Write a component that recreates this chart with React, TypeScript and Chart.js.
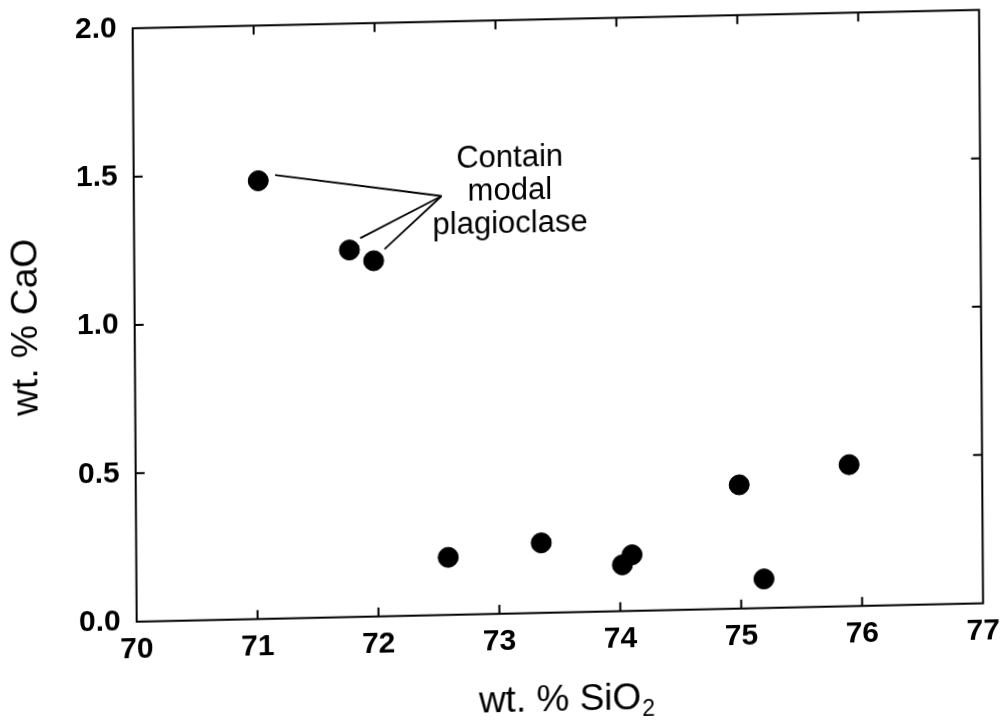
import React, { useEffect, useRef } from "react";
import { Chart, registerables } from "chart.js";

Chart.register(...registerables);

// ---- data (wt. %) ----
const sio2 = [71.03, 71.78, 71.98, 72.58, 73.35, 74.02, 74.1, 74.99, 75.19, 75.9];
const cao = [1.477, 1.237, 1.199, 0.194, 0.236, 0.156, 0.189, 0.417, 0.098, 0.477];

const xTicks = [70, 71, 72, 73, 74, 75, 76, 77];
const yTicks = [0, 0.5, 1.0, 1.5, 2.0];

const xTitle = "wt. % SiO";
const xTitleSub = "2";
const yTitle = "wt. % CaO";

const noteLines = ["Contain", "modal", "plagioclase"];
const noteAnchorX = 73.11;
const noteAnchorY = 1.424;
const leaderStartX = [71.17, 71.87, 72.07];
const leaderStartY = [1.495, 1.276, 1.237];
const leaderEndX = 72.545;
const leaderEndY = 1.412;

const FONT = "'Liberation Sans', Arial, Helvetica, sans-serif";
const CW = 1001;
const CH = 745;

const framePlugin = {
  id: "frameAndNotes",
  afterDraw(chart: any) {
    const { ctx, chartArea: a } = chart;
    const x = chart.scales.x;
    const y = chart.scales.y;
    ctx.save();
    ctx.strokeStyle = "#000";
    ctx.lineWidth = 2;
    ctx.strokeRect(a.left, a.top, a.right - a.left, a.bottom - a.top);
    const L = 9;
    ctx.beginPath();
    xTicks.slice(1, -1).forEach((v) => {
      const px = x.getPixelForValue(v);
      ctx.moveTo(px, a.bottom);
      ctx.lineTo(px, a.bottom - L);
      ctx.moveTo(px, a.top);
      ctx.lineTo(px, a.top + L);
    });
    yTicks.slice(1, -1).forEach((v) => {
      const py = y.getPixelForValue(v);
      ctx.moveTo(a.left, py);
      ctx.lineTo(a.left + L, py);
      ctx.moveTo(a.right, py);
      ctx.lineTo(a.right - L, py);
    });
    ctx.stroke();

    // annotation text
    ctx.fillStyle = "#000";
    ctx.font = `31px ${FONT}`;
    ctx.textAlign = "center";
    ctx.textBaseline = "middle";
    const cx = x.getPixelForValue(noteAnchorX);
    const cy = y.getPixelForValue(noteAnchorY);
    noteLines.forEach((t, i) => ctx.fillText(t, cx, cy + (i - 1) * 33));

    // x-axis title with subscript
    ctx.textAlign = "left";
    ctx.textBaseline = "alphabetic";
    ctx.font = `37px ${FONT}`;
    const mainW = ctx.measureText(xTitle).width;
    ctx.font = `23px ${FONT}`;
    const subW = ctx.measureText(xTitleSub).width;
    const startX = (a.left + a.right) / 2 + 6 - (mainW + subW) / 2;
    const base = a.bottom + 98;
    ctx.font = `37px ${FONT}`;
    ctx.fillText(xTitle, startX, base);
    ctx.font = `23px ${FONT}`;
    ctx.fillText(xTitleSub, startX + mainW + 1, base + 7);
    ctx.restore();
  },
};

export default function App() {
  const ref = useRef<HTMLCanvasElement | null>(null);

  useEffect(() => {
    if (!ref.current) return;
    const leaders = leaderStartX.map((sx, i) => ({
      type: "scatter" as const,
      data: [
        { x: sx, y: leaderStartY[i] },
        { x: leaderEndX, y: leaderEndY },
      ],
      showLine: true,
      pointRadius: 0,
      borderColor: "#000",
      borderWidth: 1.8,
      backgroundColor: "#000",
    }));
    const chart = new Chart(ref.current, {
      type: "scatter",
      data: {
        datasets: [
          {
            data: sio2.map((v, i) => ({ x: v, y: cao[i] })),
            pointRadius: 10,
            pointHoverRadius: 10,
            backgroundColor: "#000",
            borderColor: "#000",
            borderWidth: 1,
          },
          ...leaders,
        ],
      },
      options: {
        responsive: false,
        animation: false,
        events: [],
        layout: { padding: { top: 28.3, right: 17.7, left: 0, bottom: 0 } },
        plugins: {
          legend: { display: false },
          tooltip: { enabled: false },
        },
        scales: {
          x: {
            type: "linear",
            min: 70,
            max: 77,
            afterBuildTicks: (s: any) => {
              s.ticks = xTicks.map((v) => ({ value: v }));
            },
            afterFit: (s: any) => {
              s.height = CH - 621.7;
              s.paddingLeft = 0;
              s.paddingRight = 0;
            },
            grid: { display: false, drawTicks: false },
            border: { display: false },
            ticks: {
              color: "#000",
              padding: 10,
              autoSkip: false,
              maxRotation: 0,
              font: { family: FONT, size: 30, weight: "bold" },
              callback: (v: any) => String(v),
            },
            title: { display: false },
          },
          y: {
            type: "linear",
            min: 0,
            max: 2,
            afterBuildTicks: (s: any) => {
              s.ticks = yTicks.map((v) => ({ value: v }));
            },
            afterFit: (s: any) => {
              s.width = 136.7;
              s.paddingTop = 0;
              s.paddingBottom = 0;
            },
            grid: { display: false, drawTicks: false },
            border: { display: false },
            ticks: {
              color: "#000",
              padding: 16,
              autoSkip: false,
              font: { family: FONT, size: 30, weight: "bold" },
              callback: (v: any) => Number(v).toFixed(1),
            },
            title: {
              display: true,
              text: yTitle,
              color: "#000",
              font: { family: FONT, size: 37, weight: "normal" },
              padding: { top: 7, bottom: 0 },
            },
          },
        },
      },
      plugins: [framePlugin],
    } as any);
    return () => chart.destroy();
  }, []);

  return (
    <div
      style={{
        position: "absolute",
        left: 0,
        top: 0,
        width: 1001,
        height: 721,
        overflow: "hidden",
        background: "#fff",
      }}
    >
      <canvas
        ref={ref}
        width={CW}
        height={CH}
        style={{
          display: "block",
          width: CW,
          height: CH,
          transformOrigin: "136.7px 621.7px",
          transform: "matrix(1, -0.021734, 0.006741, 1, 0, 0)",
        }}
      />
    </div>
  );
}
